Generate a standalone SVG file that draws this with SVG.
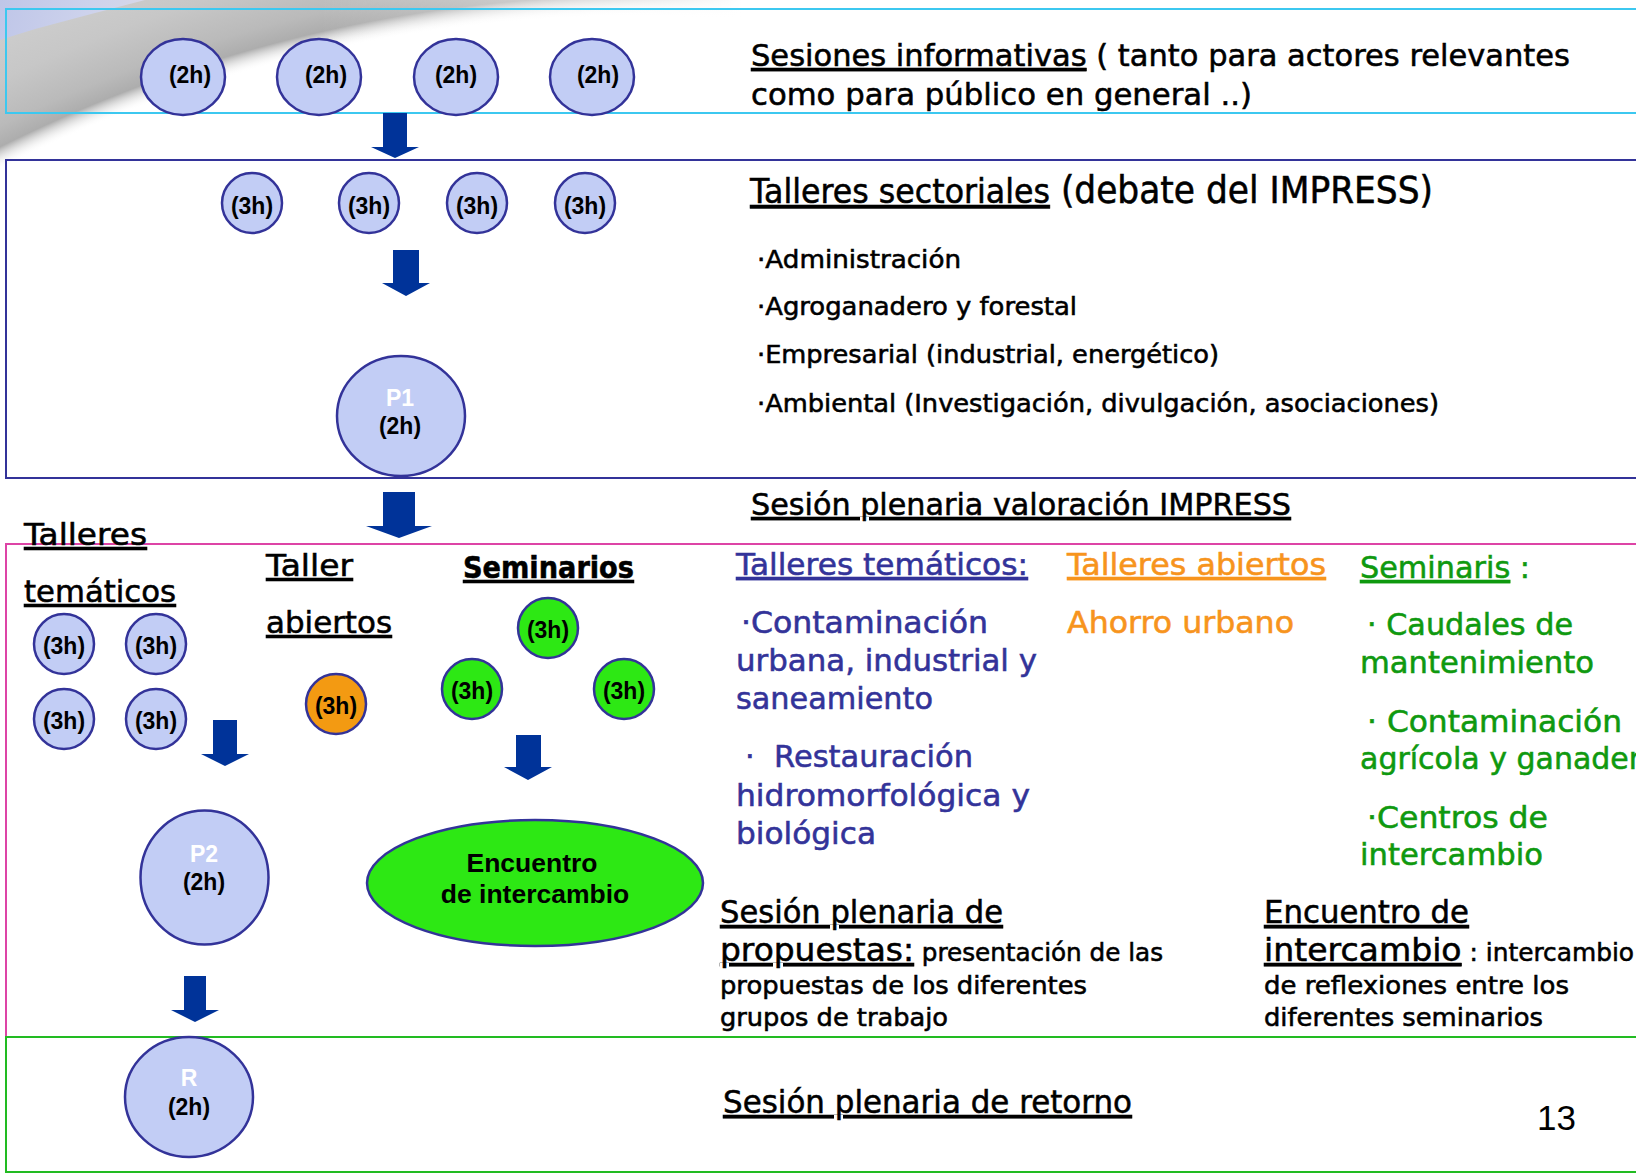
<svg xmlns="http://www.w3.org/2000/svg" width="1636" height="1173" viewBox="0 0 1636 1173">
<defs>
<radialGradient id="swoosh" gradientUnits="userSpaceOnUse" cx="638" cy="1421" r="1650">
<stop offset="0.8515" stop-color="#ffffff" stop-opacity="0"/>
<stop offset="0.8636" stop-color="#adadad"/>
<stop offset="0.875" stop-color="#bababa"/>
<stop offset="0.9" stop-color="#c7c7c7"/>
<stop offset="0.95" stop-color="#d2d2d2"/>
<stop offset="1" stop-color="#d8d8d8"/>
</radialGradient>
<linearGradient id="fade" gradientUnits="userSpaceOnUse" x1="320" y1="0" x2="742" y2="0">
<stop offset="0" stop-color="#ffffff" stop-opacity="0"/>
<stop offset="0.7" stop-color="#ffffff" stop-opacity="0.55"/>
<stop offset="1" stop-color="#ffffff" stop-opacity="1"/>
</linearGradient>
<linearGradient id="corner" gradientUnits="userSpaceOnUse" x1="0" y1="0" x2="140" y2="40">
<stop offset="0" stop-color="#bfc6e8"/>
<stop offset="0.6" stop-color="#cdd2ec"/>
<stop offset="1" stop-color="#d6d8e8"/>
</linearGradient>
<style>
.box{fill:none;stroke-width:2}
.c{fill:#c2cdf5;stroke:#333399;stroke-width:2.5}
.co{fill:#f39a12;stroke:#333399;stroke-width:2.5}
.cg{fill:#2de814;stroke:#333399;stroke-width:2.5}
.lbl{font-family:'Liberation Sans',Arial,sans-serif;font-weight:bold;font-size:23px;text-anchor:middle;fill:#000}
.wl{fill:#ffffff}
.t{font-family:'DejaVu Sans',Verdana,sans-serif;fill:#000;stroke:#000;stroke-width:0.55}
.u{text-decoration:underline}
.arr{fill:#003399}
.blue{fill:#333399;stroke:#333399}
.orange{fill:#f7941d;stroke:#f7941d}
.green{fill:#0f990f;stroke:#0f990f}
</style>
</defs>

<g id="background">
<rect x="0" y="0" width="744" height="175" fill="url(#swoosh)"/>
<rect x="0" y="0" width="745" height="40" fill="url(#fade)"/>
<path d="M0,0 H145 C100,12 45,25 0,40 Z" fill="url(#corner)"/>
</g>

<g id="frames">
<rect id="frame-informativas" class="box" x="6" y="9" width="1640" height="104" stroke="#3cc8f0"/>
<rect id="frame-sectoriales" class="box" x="6" y="160" width="1640" height="318" stroke="#333399"/>
<rect id="frame-tematicos" class="box" x="6" y="544" width="1640" height="493" stroke="#dd44a6"/>
<rect id="frame-retorno" class="box" x="6" y="1037" width="1640" height="135" stroke="#22bb22" stroke-width="2.5"/>
</g>

<g id="connectors">
<polygon class="arr" points="383,113 407,113 407,147 419,147 395,158 371,147 383,147"/>
<polygon class="arr" points="393,250 419,250 419,283 430,283 406,296 382,283 393,283"/>
<polygon class="arr" points="383,492 415,492 415,526 432,526 399,538 366,526 383,526"/>
<polygon class="arr" points="213,720 237,720 237,754 249,754 225,766 201,754 213,754"/>
<polygon class="arr" points="516,735 541,735 541,767 552,767 528,780 504,767 516,767"/>
<polygon class="arr" points="184,976 206,976 206,1010 219,1010 195,1022 171,1010 184,1010"/>
</g>

<g id="n-info1"><ellipse class="c" cx="183" cy="77" rx="42" ry="38"/><text class="lbl" x="190" y="83">(2h)</text></g>
<g id="n-info2"><ellipse class="c" cx="319" cy="77" rx="42" ry="38"/><text class="lbl" x="326" y="83">(2h)</text></g>
<g id="n-info3"><ellipse class="c" cx="456" cy="77" rx="42" ry="38"/><text class="lbl" x="456" y="83">(2h)</text></g>
<g id="n-info4"><ellipse class="c" cx="592" cy="77" rx="42" ry="38"/><text class="lbl" x="598" y="83">(2h)</text></g>

<g id="n-sect1"><ellipse class="c" cx="252" cy="203" rx="30" ry="30"/><text class="lbl" x="252" y="214">(3h)</text></g>
<g id="n-sect2"><ellipse class="c" cx="369" cy="203" rx="30" ry="30"/><text class="lbl" x="369" y="214">(3h)</text></g>
<g id="n-sect3"><ellipse class="c" cx="477" cy="203" rx="30" ry="30"/><text class="lbl" x="477" y="214">(3h)</text></g>
<g id="n-sect4"><ellipse class="c" cx="585" cy="203" rx="30" ry="30"/><text class="lbl" x="585" y="214">(3h)</text></g>

<g id="n-p1"><ellipse class="c" cx="401" cy="416" rx="64" ry="60"/><text class="lbl wl" x="400" y="406">P1</text><text class="lbl" x="400" y="434">(2h)</text></g>

<g id="n-tem1"><ellipse class="c" cx="64" cy="644" rx="30" ry="30"/><text class="lbl" x="64" y="654">(3h)</text></g>
<g id="n-tem2"><ellipse class="c" cx="156" cy="644" rx="30" ry="30"/><text class="lbl" x="156" y="654">(3h)</text></g>
<g id="n-tem3"><ellipse class="c" cx="64" cy="719" rx="30" ry="30"/><text class="lbl" x="64" y="729">(3h)</text></g>
<g id="n-tem4"><ellipse class="c" cx="156" cy="719" rx="30" ry="30"/><text class="lbl" x="156" y="729">(3h)</text></g>

<g id="n-abierto"><ellipse class="co" cx="336" cy="704" rx="30" ry="30"/><text class="lbl" x="336" y="714">(3h)</text></g>

<g id="n-sem1"><ellipse class="cg" cx="548" cy="628" rx="30" ry="30"/><text class="lbl" x="548" y="638">(3h)</text></g>
<g id="n-sem2"><ellipse class="cg" cx="472" cy="689" rx="30" ry="30"/><text class="lbl" x="472" y="699">(3h)</text></g>
<g id="n-sem3"><ellipse class="cg" cx="624" cy="689" rx="30" ry="30"/><text class="lbl" x="624" y="699">(3h)</text></g>

<g id="n-p2"><ellipse class="c" cx="204.5" cy="877.5" rx="64" ry="67"/><text class="lbl wl" x="204" y="862">P2</text><text class="lbl" x="204" y="890">(2h)</text></g>

<g id="n-encuentro"><ellipse class="cg" cx="535" cy="883" rx="168" ry="63"/><text class="lbl" x="532" y="872" style="font-size:26.5px">Encuentro</text><text class="lbl" x="535" y="903" style="font-size:26.5px">de intercambio</text></g>

<g id="n-r"><ellipse class="c" cx="189" cy="1097" rx="64" ry="60"/><text class="lbl wl" x="189" y="1086">R</text><text class="lbl" x="189" y="1115">(2h)</text></g>

<g id="text-informativas">
<text class="t" x="751" y="66" font-size="31" textLength="819" lengthAdjust="spacingAndGlyphs"><tspan class="u">Sesiones informativas</tspan> ( tanto para actores relevantes</text>
<text class="t" x="751" y="105" font-size="31" textLength="501" lengthAdjust="spacingAndGlyphs">como para público en general ..)</text>
</g>

<g id="text-sectoriales">
<text class="t" x="750" y="203" textLength="683" lengthAdjust="spacingAndGlyphs"><tspan class="u" font-size="34">Talleres sectoriales</tspan><tspan font-size="37"> (debate del IMPRESS)</tspan></text>
<text class="t" x="757" y="268" font-size="24" textLength="204" lengthAdjust="spacingAndGlyphs">·Administración</text>
<text class="t" x="757" y="315" font-size="24" textLength="320" lengthAdjust="spacingAndGlyphs">·Agroganadero y forestal</text>
<text class="t" x="757" y="363" font-size="24" textLength="462" lengthAdjust="spacingAndGlyphs">·Empresarial (industrial, energético)</text>
<text class="t" x="757" y="412" font-size="24" textLength="682" lengthAdjust="spacingAndGlyphs">·Ambiental (Investigación, divulgación, asociaciones)</text>
</g>

<g id="text-valoracion">
<text class="t u" x="751" y="515" font-size="31" textLength="540" lengthAdjust="spacingAndGlyphs">Sesión plenaria valoración IMPRESS</text>
</g>

<g id="text-headings">
<text class="t u" x="24" y="545" font-size="30" textLength="123" lengthAdjust="spacingAndGlyphs">Talleres</text>
<text class="t u" x="24" y="602" font-size="30" textLength="152" lengthAdjust="spacingAndGlyphs">temáticos</text>
<text class="t u" x="266" y="576" font-size="30" textLength="87" lengthAdjust="spacingAndGlyphs">Taller</text>
<text class="t u" x="266" y="633" font-size="30" textLength="126" lengthAdjust="spacingAndGlyphs">abiertos</text>
<text class="t u" x="463" y="578" font-size="30" font-weight="bold" textLength="171" lengthAdjust="spacingAndGlyphs">Seminarios</text>
</g>

<g id="text-tematicos">
<text class="t u blue" x="736" y="575" font-size="31" textLength="292" lengthAdjust="spacingAndGlyphs">Talleres temáticos:</text>
<text class="t blue" x="741" y="633" font-size="30" textLength="247" lengthAdjust="spacingAndGlyphs">·Contaminación</text>
<text class="t blue" x="736" y="671" font-size="30" textLength="301" lengthAdjust="spacingAndGlyphs">urbana, industrial y</text>
<text class="t blue" x="736" y="709" font-size="30" textLength="197" lengthAdjust="spacingAndGlyphs">saneamiento</text>
<text class="t blue" x="745" y="767" font-size="30" textLength="228" lengthAdjust="spacingAndGlyphs">·&#160;&#160;Restauración</text>
<text class="t blue" x="736" y="806" font-size="30" textLength="294" lengthAdjust="spacingAndGlyphs">hidromorfológica y</text>
<text class="t blue" x="736" y="844" font-size="30" textLength="140" lengthAdjust="spacingAndGlyphs">biológica</text>
</g>

<g id="text-abiertos">
<text class="t u orange" x="1067" y="575" font-size="31" textLength="259" lengthAdjust="spacingAndGlyphs">Talleres abiertos</text>
<text class="t orange" x="1067" y="633" font-size="30" textLength="227" lengthAdjust="spacingAndGlyphs">Ahorro urbano</text>
</g>

<g id="text-seminaris">
<text class="t green" x="1360" y="578" font-size="31" textLength="170" lengthAdjust="spacingAndGlyphs"><tspan class="u">Seminaris</tspan> :</text>
<text class="t green" x="1367" y="635" font-size="30" textLength="206" lengthAdjust="spacingAndGlyphs">· Caudales de</text>
<text class="t green" x="1360" y="673" font-size="30" textLength="234" lengthAdjust="spacingAndGlyphs">mantenimiento</text>
<text class="t green" x="1367" y="732" font-size="30" textLength="255" lengthAdjust="spacingAndGlyphs">· Contaminación</text>
<text class="t green" x="1360" y="769" font-size="30">agrícola y ganadera</text>
<text class="t green" x="1367" y="828" font-size="30" textLength="181" lengthAdjust="spacingAndGlyphs">·Centros de</text>
<text class="t green" x="1360" y="865" font-size="30" textLength="183" lengthAdjust="spacingAndGlyphs">intercambio</text>
</g>

<g id="text-propuestas">
<text class="t u" x="720" y="923" font-size="32" textLength="283" lengthAdjust="spacingAndGlyphs">Sesión plenaria de</text>
<text class="t" x="720" y="961" textLength="443" lengthAdjust="spacingAndGlyphs"><tspan class="u" font-size="32">propuestas:</tspan><tspan font-size="24"> presentación de las</tspan></text>
<text class="t" x="720" y="994" font-size="24" textLength="367" lengthAdjust="spacingAndGlyphs">propuestas de los diferentes</text>
<text class="t" x="720" y="1026" font-size="24" textLength="228" lengthAdjust="spacingAndGlyphs">grupos de trabajo</text>
</g>

<g id="text-encuentro">
<text class="t u" x="1264" y="923" font-size="32" textLength="205" lengthAdjust="spacingAndGlyphs">Encuentro de</text>
<text class="t" x="1264" y="961" textLength="370" lengthAdjust="spacingAndGlyphs"><tspan class="u" font-size="32">intercambio</tspan><tspan font-size="24"> : intercambio</tspan></text>
<text class="t" x="1264" y="994" font-size="24" textLength="305" lengthAdjust="spacingAndGlyphs">de reflexiones entre los</text>
<text class="t" x="1264" y="1026" font-size="24" textLength="279" lengthAdjust="spacingAndGlyphs">diferentes seminarios</text>
</g>

<g id="text-retorno">
<text class="t u" x="723" y="1113" font-size="32" textLength="409" lengthAdjust="spacingAndGlyphs">Sesión plenaria de retorno</text>
<text x="1537" y="1130" font-family="'Liberation Sans',Arial,sans-serif" font-size="35" fill="#000">13</text>
</g>
</svg>
